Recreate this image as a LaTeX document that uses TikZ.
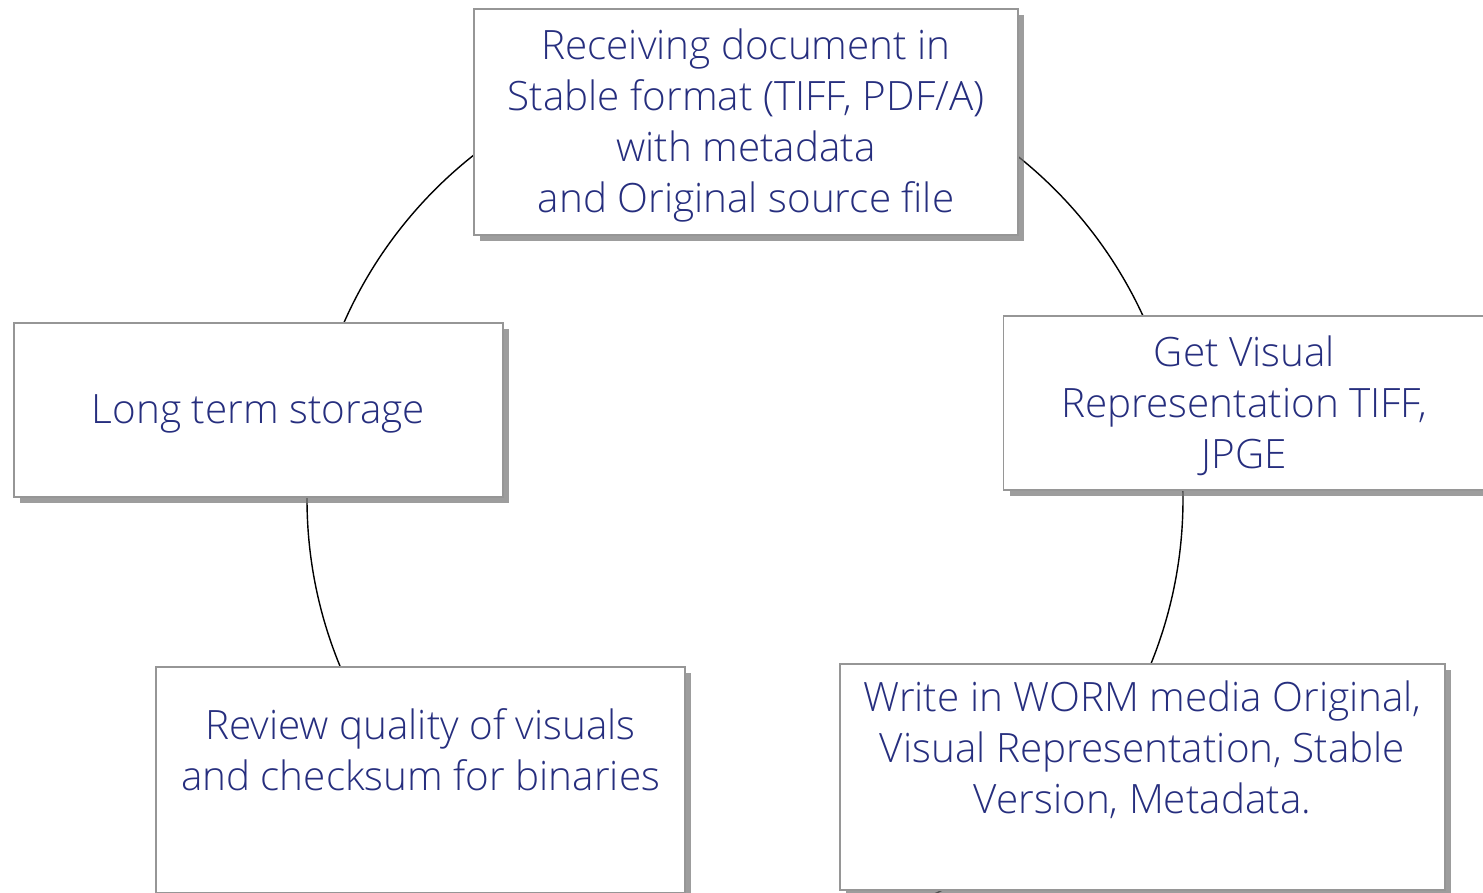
\documentclass[tikz,border=0pt]{standalone}
\usepackage{fontspec}
\setmainfont{Open Sans Light}
\usepackage{xcolor}
\usepackage{tikz}
\usetikzlibrary{
    shadows
}
\definecolor{ink}{RGB}{38,46,126}
\definecolor{rim}{RGB}{150,150,150}
\newcommand{\lift}{\rule{0pt}{21pt}}

\begin{document}
\begin{tikzpicture}[semithick]
    \tikzstyle{stage}=[draw=rim, line width=1.1pt, fill=white, text=ink, align=center,
        font=\fontsize{23}{29}\selectfont,
        drop shadow={shadow xshift=3.5pt, shadow yshift=-3.5pt, fill=black!55, opacity=.7}]
    \useasboundingbox (0,0) rectangle (29.66,-17.86);
    % the cycle runs behind the boxes
    \coordinate (hub) at (14.9,-9.98);
    \draw[line width=0.8pt] (hub) circle (8.76);
    \node[stage, minimum width=10.88cm, minimum height=4.52cm] (recv) at (14.92,-2.44)
        {\lift Receiving document in\\Stable format (TIFF, PDF/A)\\with metadata\\and Original source file};
    \node[stage, minimum width=9.64cm, minimum height=3.48cm] (vis) at (24.89,-8.06)
        {\lift Get Visual\\Representation TIFF,\\JPGE};
    \node[stage, minimum width=12.1cm, minimum height=4.52cm] (worm) at (22.85,-15.54)
        {\lift Write in WORM media Original,\\Visual Representation, Stable\\Version, Metadata.\\\strut};
    \node[stage, minimum width=10.58cm, minimum height=4.52cm] (review) at (8.41,-15.6)
        {\lift Review quality of visuals\\and checksum for binaries\\\strut};
    \node[stage, minimum width=9.78cm, minimum height=3.48cm] (store) at (5.17,-8.2)
        {\lift Long term storage};
\end{tikzpicture}
\end{document}
